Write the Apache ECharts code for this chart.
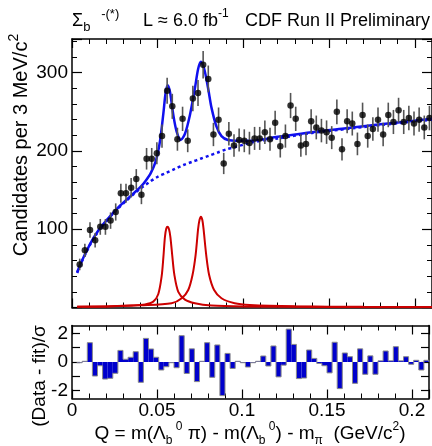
<!DOCTYPE html>
<html>
<head>
<meta charset="utf-8">
<script src="https://cdn.jsdelivr.net/npm/echarts@6/dist/echarts.min.js"></script>
<style>html,body{margin:0;padding:0;background:#fff;}#c{width:432px;height:446px;}</style>
</head>
<body>
<div id="c"></div>
<script>
// ---- data ----
const binCenters = [0.0045,0.0075,0.0105,0.0135,0.0165,0.0195,0.0225,0.0255,0.0285,0.0315,
  0.0345,0.0375,0.0405,0.0435,0.0465,0.0495,0.0525,0.0555,0.0585,0.0615,
  0.0645,0.0675,0.0705,0.0735,0.0765,0.0795,0.0825,0.0855,0.0885,0.0915,
  0.0945,0.0975,0.1005,0.1035,0.1065,0.1095,0.1125,0.1155,0.1185,0.1215,
  0.1245,0.1275,0.1305,0.1335,0.1365,0.1395,0.1425,0.1455,0.1485,0.1515,
  0.1545,0.1575,0.1605,0.1635,0.1665,0.1695,0.1725,0.1755,0.1785,0.1815,
  0.1845,0.1875,0.1905,0.1935,0.1965,0.1995,0.2025,0.2055,0.2085];
const counts = [55,73,99,86,103,103,111,122,146,146,
  153,164,144,190,190,197,219,277,257,215,
  241,213,267,274,310,292,221,240,184,222,
  207,214,213,210,216,216,224,215,236,206,
  219,258,241,207,209,238,230,226,224,217,
  250,202,238,235,209,246,219,228,240,221,
  246,237,252,237,242,235,240,230,242];
const errors = [7.4,8.5,9.9,9.3,10.1,10.1,10.5,11.0,12.1,12.1,
  12.4,12.8,12.0,13.8,13.8,14.0,14.8,16.6,16.0,14.7,
  15.5,14.6,16.3,16.6,17.6,17.1,14.9,15.5,13.6,14.9,
  14.4,14.6,14.6,14.5,14.7,14.7,15.0,14.7,15.4,14.4,
  14.8,16.1,15.5,14.4,14.5,15.4,15.2,15.0,15.0,14.7,
  15.8,14.2,15.4,15.3,14.5,15.7,14.8,15.1,15.5,14.9,
  15.7,15.4,15.9,15.4,15.6,15.3,15.5,15.2,15.6];
const residuals = [-0.05,0.05,1.35,-0.98,-0.26,-1.19,-1.14,-0.79,0.81,0.19,
  0.33,0.72,-1.42,1.65,0.91,0.33,-0.56,-0.33,-0.05,-0.40,
  1.84,-0.80,0.92,-1.37,0.05,1.35,-1.07,1.19,-2.35,0.60,
  -0.45,0.05,-0.05,-0.35,-0.05,0.05,0.42,-0.28,1.12,-1.04,
  -0.22,2.30,1.23,-1.16,-1.12,0.84,0.25,-0.10,-0.26,-0.76,
  1.38,-1.86,0.63,0.37,-1.49,0.92,-0.86,0.43,-0.86,0.08,
  0.77,0.08,1.07,0.08,0.37,-0.16,0.12,-0.56,0.12];
const fitQ =   [0.003,0.005,0.008,0.011,0.014,0.017,0.020,0.024,0.028,0.032,0.036,0.040,0.043,0.046,0.049,
  0.0513,0.0533,0.0546,0.0558,0.0572,0.0591,0.0610,0.0634,0.0659,0.0688,0.0717,0.0736,0.0752,0.0771,
  0.0794,0.0814,0.0843,0.0872,0.091,0.097,0.104,0.12,0.14,0.16,0.18,0.21];
const fitVal = [45,56,70,83,94,103,111,121,130,138,146,154,162,172,188,
  212,248,274,284,275,246,225,214,222,246,280,305,314,305,
  280,255,231,219,214,213,213,218,224,229,234,241];
const bgQ =   [0.003,0.005,0.008,0.011,0.014,0.017,0.020,0.024,0.028,0.032,0.036,0.040,0.045,0.050,0.055,0.060,
  0.065,0.070,0.075,0.080,0.085,0.090,0.095,0.100,0.105,0.12,0.14,0.16,0.18,0.21];
const bgVal = [44,55,69,82,93,102,110,120,129,137,145,152,160,167,172,177,
  182,186,190,194,198,202,205,208,211,216,223,228,233,240];
const peak1Q =   [0.003,0.02,0.035,0.0426,0.0474,0.0503,0.0523,0.0533,0.0542,0.0550,0.0558,0.0566,0.0574,0.0585,
  0.0597,0.0620,0.0659,0.0717,0.0814,0.10,0.15,0.21];
const peak1Val = [0.8,1.3,2.6,4,7.5,17,40,64,90,101,103,100,90,66,
  42,20,10,5.4,2.5,1.3,0.6,0.4];
const peak2Q =   [0.003,0.02,0.04,0.0581,0.064,0.0678,0.0703,0.0721,0.0736,0.0744,0.0752,0.0760,0.0767,0.0783,
  0.0800,0.0829,0.0872,0.0949,0.1037,0.13,0.17,0.21];
const peak2Val = [0.9,1.4,2.8,5.4,11.8,22.4,41.6,67,101,112,116,112,101,67,
  41.6,22.4,11.8,5.4,3.2,1.5,0.8,0.5];
const mainYLabels = [100,200,300];
const residYLabels = [-2,0,2];
const residYTicks = [-2,-1,0,1,2];

// ---- chart ----
const FONT = '"Liberation Sans", Arial, Helvetica, sans-serif';
const BIN_W = 0.003;
const pair = (xs, ys) => xs.map((x, i) => [x, ys[i]]);
const chart = echarts.init(document.getElementById('c'), null, {renderer: 'canvas'});

function mkX(gi, pos, labels) {
  return {
    type: 'value', gridIndex: gi, position: pos, min: 0, max: 0.21, interval: 0.05,
    axisLine: {show: true, onZero: false, lineStyle: {color: '#000', width: 1.5}},
    axisTick: {show: true, inside: true, length: 9, lineStyle: {color: '#000', width: 1.2}},
    minorTick: {show: true, splitNumber: 5, length: 5, lineStyle: {color: '#000', width: 1}},
    splitLine: {show: false}, minorSplitLine: {show: false},
    axisLabel: {show: labels, fontSize: 19, fontFamily: FONT, color: '#000', margin: 3,
      formatter: v => (v > 0.205 ? '' : String(+v.toFixed(3)))}
  };
}
function mkYMain(pos, labels) {
  return {
    type: 'value', gridIndex: 0, position: pos, min: 0, max: 343, interval: 100,
    axisLine: {show: true, onZero: false, lineStyle: {color: '#000', width: 1.5}},
    axisTick: {show: true, inside: true, length: 10, lineStyle: {color: '#000', width: 1.2}},
    minorTick: {show: true, splitNumber: 5, length: 5, lineStyle: {color: '#000', width: 1}},
    splitLine: {show: false}, minorSplitLine: {show: false},
    axisLabel: {show: labels, fontSize: 19, fontFamily: FONT, color: '#000', margin: 4,
      formatter: v => (mainYLabels.indexOf(v) >= 0 ? String(v) : '')}
  };
}
function mkYRes(pos, labels) {
  return {
    type: 'value', gridIndex: 1, position: pos, min: -2.55, max: 2.55,
    axisLine: {show: true, onZero: false, lineStyle: {color: '#000', width: 1.5}},
    axisTick: {show: true, inside: true, length: 8, customValues: residYTicks, lineStyle: {color: '#000', width: 1.2}},
    splitLine: {show: false},
    axisLabel: {show: labels, customValues: residYLabels, fontSize: 19, fontFamily: FONT, color: '#000', margin: 4}
  };
}

const richMain = (size, lh) => ({fontSize: size, fontFamily: FONT, color: '#000', lineHeight: lh, verticalAlign: 'middle'});
const richSmall = (size, va) => ({fontSize: size, fontFamily: FONT, color: '#000', verticalAlign: va});

function txt(x, y, text, rich, rot, align) {
  return {
    type: 'text', x: x, y: y, rotation: rot || 0, silent: true,
    style: {text: text, rich: rich, align: align || 'left', textAlign: align || 'left',
      verticalAlign: 'middle', textVerticalAlign: 'middle', fontFamily: FONT, fill: '#000'}
  };
}

const option = {
  animation: false,
  backgroundColor: '#fff',
  grid: [
    {left: 72, top: 39, width: 361, height: 268.5},
    {left: 72, top: 325.5, width: 361, height: 73}
  ],
  xAxis: [mkX(0, 'bottom', false), mkX(0, 'top', false), mkX(1, 'bottom', true), mkX(1, 'top', false)],
  yAxis: [mkYMain('left', true), mkYMain('right', false), mkYRes('left', true), mkYRes('right', false)],
  series: [
    {type: 'line', xAxisIndex: 0, yAxisIndex: 0, data: pair(bgQ, bgVal), showSymbol: false, smooth: 0.3,
      lineStyle: {color: '#1010ee', width: 2.5, type: [3, 3]}, z: 2},
    {type: 'line', xAxisIndex: 0, yAxisIndex: 0, data: pair(peak1Q, peak1Val), showSymbol: false, smooth: 0.3,
      lineStyle: {color: '#cc0000', width: 2}, z: 2},
    {type: 'line', xAxisIndex: 0, yAxisIndex: 0, data: pair(peak2Q, peak2Val), showSymbol: false, smooth: 0.3,
      lineStyle: {color: '#cc0000', width: 2}, z: 2},
    {type: 'line', xAxisIndex: 0, yAxisIndex: 0, data: pair(fitQ, fitVal), showSymbol: false, smooth: 0.3,
      lineStyle: {color: '#1010ee', width: 2.5}, z: 3},
    {type: 'custom', xAxisIndex: 0, yAxisIndex: 0, z: 4,
      data: binCenters.map((q, i) => [q, counts[i], errors[i]]),
      renderItem: function (params, api) {
        const q = api.value(0), v = api.value(1), e = api.value(2);
        const p1 = api.coord([q, v - e]), p2 = api.coord([q, v + e]);
        return {type: 'line', shape: {x1: p1[0], y1: p1[1], x2: p2[0], y2: p2[1]},
          style: {stroke: '#555', lineWidth: 1.6}};
      }},
    {type: 'scatter', xAxisIndex: 0, yAxisIndex: 0, z: 5, symbol: 'circle', symbolSize: 6.5,
      itemStyle: {color: '#000'}, data: pair(binCenters, counts)},
    {type: 'custom', xAxisIndex: 2, yAxisIndex: 2, z: 3,
      data: pair(binCenters, residuals),
      renderItem: function (params, api) {
        const i = params.dataIndex;
        const c = api.value(0), v = api.value(1);
        const a = api.coord([c - BIN_W / 2, 0]);
        const b = api.coord([c + BIN_W / 2, v]);
        const prev = i > 0 ? residuals[i - 1] : 0;
        const pp = api.coord([c - BIN_W / 2, prev]);
        const pts = [[a[0], pp[1]], [a[0], b[1]], [b[0], b[1]]];
        if (i === residuals.length - 1) pts.push([b[0], a[1]]);
        return {type: 'group', children: [
          {type: 'rect', shape: {x: a[0], y: Math.min(a[1], b[1]), width: b[0] - a[0], height: Math.abs(b[1] - a[1])},
            style: {fill: '#0000cc'}},
          {type: 'polyline', shape: {points: pts}, style: {stroke: '#8a8a8a', fill: null, lineWidth: 1}}
        ]};
      }}
  ],
  graphic: [
    txt(72, 20.7, '{m|Σ}{s|b}{p|   -(*)}', {m: richMain(18, 26), s: richSmall(13, 'bottom'), p: richSmall(13, 'top')}),
    txt(143, 20.7, '{m|L ≈ 6.0 fb}{p|-1}', {m: richMain(18, 26), p: richSmall(12, 'top')}),
    txt(245, 20.7, '{m|CDF Run II Preliminary}', {m: richMain(18, 26)}),
    txt(21, 145, '{m|Candidates per 3 MeV/c}{p|2}', {m: richMain(20, 28), p: richSmall(14, 'top')}, Math.PI / 2, 'center'),
    txt(40, 376, '{m|(Data - fit)/σ}', {m: richMain(19, 26)}, Math.PI / 2, 'center'),
    txt(250, 433.4, '{m|Q = m(Λ}{s|b}{p| 0}{m| π) - m(Λ}{s|b}{p| 0}{m|) - m}{s|π}{m|  (GeV/c}{p|2}{m|)}',
      {m: richMain(19, 26), s: richSmall(12, 'bottom'), p: richSmall(12, 'top')}, 0, 'center')
  ]
};
chart.setOption(option);
</script>
</body>
</html>
